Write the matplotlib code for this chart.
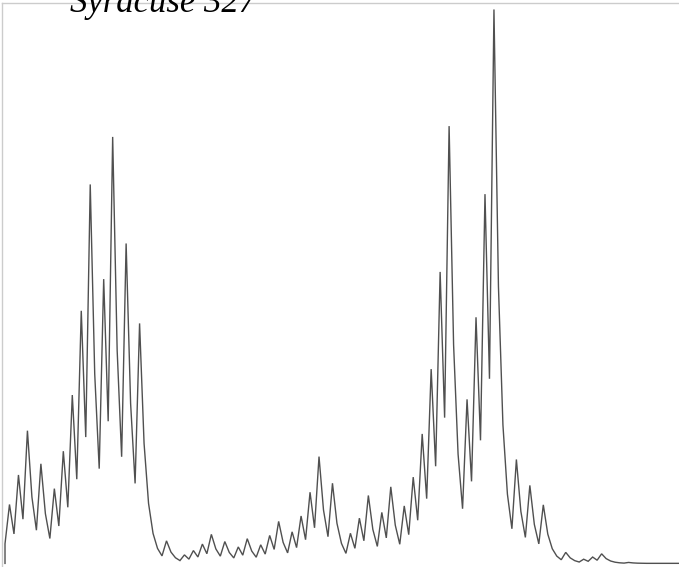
import matplotlib
matplotlib.use("Agg")
import matplotlib.pyplot as plt

# Syracuse (Collatz) orbit of 327
seq_values = [327, 982, 491, 1474, 737, 2212, 1106, 553, 1660, 830,
              415, 1246, 623, 1870, 935, 2806, 1403, 4210, 2105, 6316,
              3158, 1579, 4738, 2369, 7108, 3554, 1777, 5332, 2666, 1333,
              4000, 2000, 1000, 500, 250, 125, 376, 188, 94, 47,
              142, 71, 214, 107, 322, 161, 484, 242, 121, 364,
              182, 91, 274, 137, 412, 206, 103, 310, 155, 466,
              233, 700, 350, 175, 526, 263, 790, 395, 1186, 593,
              1780, 890, 445, 1336, 668, 334, 167, 502, 251, 754,
              377, 1132, 566, 283, 850, 425, 1276, 638, 319, 958,
              479, 1438, 719, 2158, 1079, 3238, 1619, 4858, 2429, 7288,
              3644, 1822, 911, 2734, 1367, 4102, 2051, 6154, 3077, 9232,
              4616, 2308, 1154, 577, 1732, 866, 433, 1300, 650, 325,
              976, 488, 244, 122, 61, 184, 92, 46, 23, 70,
              35, 106, 53, 160, 80, 40, 20, 10, 5, 16,
              8, 4, 2, 1]
# flat tail to the right edge
tail_values = [1, 1, 1, 1, 1, 1, 1, 1]
title_text = "Syracuse 327"

values = [0] + seq_values + tail_values
steps = [0] + list(range(len(seq_values) + len(tail_values)))

W, H = 679, 567
fig = plt.figure(figsize=(W / 100, H / 100), dpi=100)
ax = fig.add_axes([2 / W, 0, (W - 2) / W, (H - 2.5) / H])

ax.plot(steps, values, color="#505050", linewidth=1.0, solid_joinstyle="miter")

ax.set_xlim(-0.67, 150.25)
ax.set_ylim(-60, 9348)
ax.set_xticks([])
ax.set_yticks([])
for side in ["right", "bottom"]:
    ax.spines[side].set_visible(False)
for side in ["left", "top"]:
    ax.spines[side].set_color("#cccccc")
    ax.spines[side].set_linewidth(1.0)

fig.text(70 / W, 1 - 12 / H, title_text, family="Liberation Serif",
         style="italic", fontsize=25, color="black", va="baseline", ha="left")

fig.savefig("out.png", dpi=100)
